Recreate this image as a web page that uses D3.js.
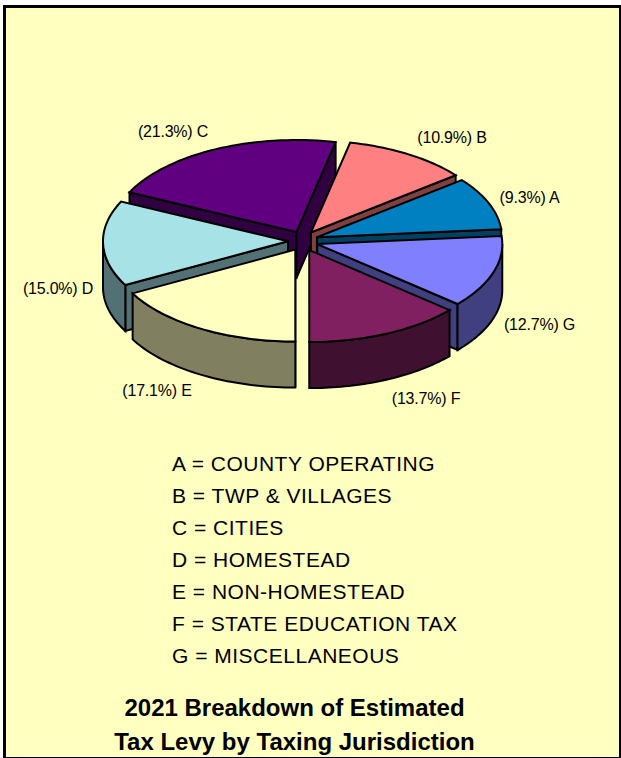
<!DOCTYPE html>
<html><head><meta charset="utf-8">
<script src="https://cdn.jsdelivr.net/npm/d3@7/dist/d3.min.js"></script>
<style>html,body{margin:0;padding:0;background:#fff}svg{display:block}text{font-family:"Liberation Sans",Arial,sans-serif;fill:#000}</style>
</head><body><script>
const letters=["A","B","C","D","E","F","G"];
const values=[9.3,10.9,21.3,15.0,17.1,13.7,12.7];
const valueLabels=["9.3%","10.9%","21.3%","15.0%","17.1%","13.7%","12.7%"];
const jurisdictions=["COUNTY OPERATING","TWP & VILLAGES","CITIES","HOMESTEAD","NON-HOMESTEAD","STATE EDUCATION TAX","MISCELLANEOUS"];
const titleLines=["2021 Breakdown of Estimated","Tax Levy by Taxing Jurisdiction"];
const clockwiseOrder=["E","D","C","B","A","G","F"];
const paintOrder=["C","B","A","D","G","E","F"];
const topColors=["#0080c0","#ff8080","#600080","#a6e2e6","#ffffc0","#802060","#8080ff"];
const wallColors=["#004060","#804040","#300040","#537174","#808060","#401030","#404080"];

const W=621,H=758,cx=303,cy=241,rx=185,ry=92,depth=46,explodeX=15,explodeY=10;
const labelPos={A:[529.5,197],B:[452,137],C:[173,131],D:[58,288],E:[157,390],F:[426,398],G:[539.5,324]};

const svg=d3.select("body").append("svg").attr("width",W).attr("height",H);
svg.append("rect").attr("x",3).attr("y",5).attr("width",618).attr("height",753).attr("fill","#000");
svg.append("rect").attr("x",6).attr("y",8).attr("width",613).attr("height",749).attr("fill","#ffffc0");

const pie=d3.pie().sort((a,b)=>clockwiseOrder.indexOf(a.k)-clockwiseOrder.indexOf(b.k))
  .value(d=>d.v).startAngle(-Math.PI).endAngle(Math.PI);
const slices=pie(letters.map((k,i)=>({k,v:values[i],i})));
const sx=d3.scaleLinear().domain([-1,1]).range([-rx,rx]);
const sy=d3.scaleLinear().domain([-1,1]).range([ry,-ry]);
const line=d3.line();
const g=svg.append("g").attr("stroke","#000").attr("stroke-width",2).attr("stroke-linejoin","miter");
const rim=(a,ox,oy,dz=0)=>[ox+sx(Math.sin(a)),oy+sy(Math.cos(a))+dz];
const arcPts=(a0,a1,ox,oy,dz)=>d3.range(0,41).map(t=>rim(a0+(a1-a0)*t/40,ox,oy,dz));

paintOrder.forEach(k=>{
  const s=slices.find(d=>d.data.k===k), i=s.data.i;
  const mid=(s.startAngle+s.endAngle)/2;
  const ox=cx+explodeX*Math.sin(mid), oy=cy-explodeY*Math.cos(mid);
  const wall=a=>{const p=rim(a,ox,oy);
    g.append("path").attr("fill",wallColors[i]).attr("d",line([[ox,oy],p,[p[0],p[1]+depth],[ox,oy+depth]])+"Z");};
  // a radial wall shows only when it faces the viewer
  if(Math.sin(s.startAngle)<0) wall(s.startAngle);
  if(Math.sin(s.endAngle)>0) wall(s.endAngle);
  // outer rim: only the near half of the ellipse shows
  const norm=a=>a<-Math.PI/2?a+2*Math.PI:a;
  const a0=norm(s.startAngle),a1=a0+(s.endAngle-s.startAngle);
  const lo=Math.max(a0,Math.PI/2),hi=Math.min(a1,3*Math.PI/2);
  if(hi>lo){
    g.append("path").attr("fill",wallColors[i])
      .attr("d",line([...arcPts(lo,hi,ox,oy,0),...arcPts(hi,lo,ox,oy,depth)])+"Z");
  }
  g.append("path").attr("fill",topColors[i])
    .attr("d",line([[ox,oy],...arcPts(s.startAngle,s.endAngle,ox,oy,0)])+"Z");
});

svg.append("g").selectAll("text").data(letters).join("text")
  .attr("x",k=>labelPos[k][0]).attr("y",k=>labelPos[k][1]+6)
  .attr("text-anchor","middle").attr("font-size",16).attr("letter-spacing",-0.2)
  .text((k,i)=>`(${valueLabels[i]}) ${k}`);

svg.append("g").selectAll("text").data(letters).join("text")
  .attr("x",172).attr("y",(k,i)=>471+32*i).attr("font-size",21).attr("letter-spacing",0.5)
  .text((k,i)=>`${k} = ${jurisdictions[i]}`);

svg.append("g").selectAll("text").data(titleLines).join("text")
  .attr("x",294.5).attr("y",(d,i)=>716+34*i).attr("text-anchor","middle")
  .attr("font-size",24).attr("font-weight","bold").text(d=>d);
</script></body></html>
